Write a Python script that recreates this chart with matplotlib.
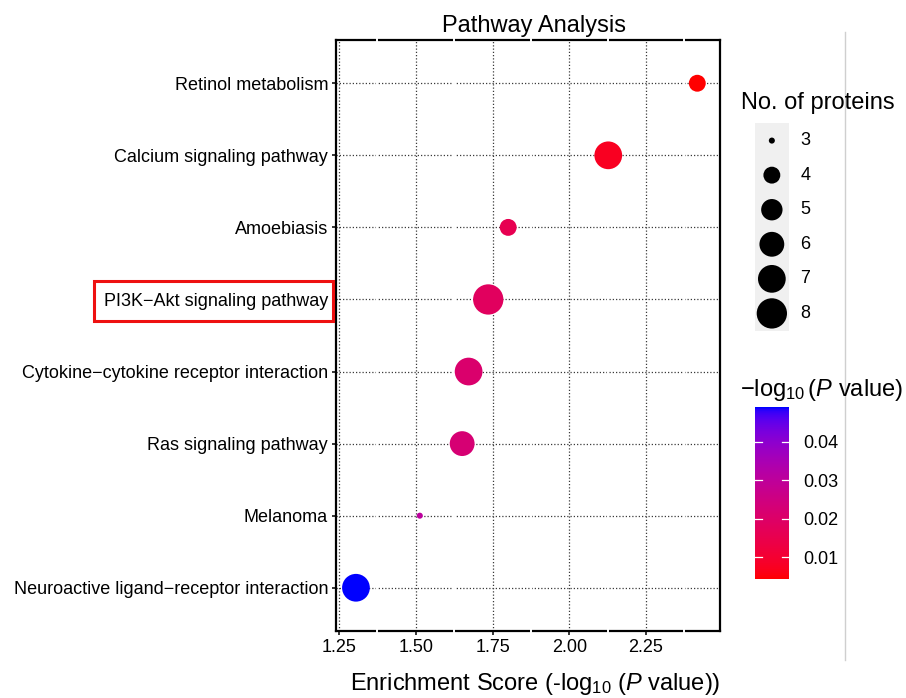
import numpy as np
import matplotlib
matplotlib.use("Agg")
import matplotlib.pyplot as plt
from matplotlib.colors import ListedColormap, Normalize
from matplotlib.patches import Rectangle
from matplotlib.lines import Line2D
import matplotlib.colorbar as mcolorbar

plt.rcParams['font.family'] = ['Liberation Sans', 'DejaVu Sans']
plt.rcParams['mathtext.fontset'] = 'custom'
plt.rcParams['mathtext.rm'] = 'Liberation Sans'
plt.rcParams['mathtext.it'] = 'Liberation Sans:italic'

# ---------------- data ----------------
pathways = ["Retinol metabolism", "Calcium signaling pathway", "Amoebiasis",
            "PI3K\u2212Akt signaling pathway", "Cytokine\u2212cytokine receptor interaction",
            "Ras signaling pathway", "Melanoma", "Neuroactive ligand\u2212receptor interaction"]
enrichment = [2.417, 2.127, 1.801, 1.736, 1.672, 1.651, 1.513, 1.305]
n_proteins = [4, 7, 4, 8, 7, 6, 3, 7]
p_values = [0.0043, 0.0075, 0.0158, 0.0184, 0.0212, 0.0223, 0.0306, 0.049]
size_legend_values = [3, 4, 5, 6, 7, 8]
x_ticks = [1.25, 1.50, 1.75, 2.00, 2.25]
cbar_ticks = [0.01, 0.02, 0.03, 0.04]
highlight = "PI3K\u2212Akt signaling pathway"

# ---------------- helpers ----------------
def srgb_to_lab(rgb):
    rgb = np.asarray(rgb, float)
    lin = np.where(rgb <= 0.04045, rgb / 12.92, ((rgb + 0.055) / 1.055) ** 2.4)
    M = np.array([[0.4124564, 0.3575761, 0.1804375],
                  [0.2126729, 0.7151522, 0.0721750],
                  [0.0193339, 0.1191920, 0.9503041]])
    xyz = M @ lin
    wp = np.array([0.95047, 1.0, 1.08883])
    t = xyz / wp
    f = np.where(t > (6 / 29) ** 3, np.cbrt(t), t / (3 * (6 / 29) ** 2) + 4 / 29)
    return np.array([116 * f[1] - 16, 500 * (f[0] - f[1]), 200 * (f[1] - f[2])])

def lab_to_srgb(lab):
    L, a, b = lab
    fy_ = (L + 16) / 116
    fx_ = fy_ + a / 500
    fz_ = fy_ - b / 200
    def finv(f):
        return np.where(f > 6 / 29, f ** 3, 3 * (6 / 29) ** 2 * (f - 4 / 29))
    wp = np.array([0.95047, 1.0, 1.08883])
    xyz = np.array([finv(fx_), finv(fy_), finv(fz_)]) * wp
    Minv = np.array([[3.2404542, -1.5371385, -0.4985314],
                     [-0.9692660, 1.8760108, 0.0415560],
                     [0.0556434, -0.2040259, 1.0572252]])
    lin = np.clip(Minv @ xyz, 0, 1)
    rgb = np.where(lin <= 0.0031308, 12.92 * lin, 1.055 * lin ** (1 / 2.4) - 0.055)
    return np.clip(rgb, 0, 1)

lab_lo = srgb_to_lab([1, 0, 0])
lab_hi = srgb_to_lab([0, 0, 1])
cols = [lab_to_srgb(lab_lo + (lab_hi - lab_lo) * t) for t in np.linspace(0, 1, 256)]
cmap = ListedColormap(cols)
norm = Normalize(vmin=0.0043, vmax=0.049)

def size_to_diam_px(v):
    s = 1 + 5 * np.sqrt((np.asarray(v, float) - 3) / 5)
    return 4.85 * s + 1.2

def diam_px_to_s(d):
    return (d * 72 / 100) ** 2

# ---------------- figure ----------------
W, H = 906, 698
fig = plt.figure(figsize=(W / 100, H / 100), dpi=100)

def fx(px):
    return px / W

def fy(py):
    return 1 - py / H

ax = fig.add_axes([fx(336), fy(631), fx(720) - fx(336), fy(40) - fy(631)])

ypos = np.arange(len(pathways))
ax.set_ylim(len(pathways) - 0.4, -0.6)
ax.set_xlim(1.240, 2.491)

# grid
for xt in x_ticks:
    ax.axvline(xt, color='#3a3a3a', lw=0.9, ls=(0, (1, 1.6)), zorder=1)
for yp in ypos:
    ax.axhline(yp, color='#3a3a3a', lw=0.9, ls=(0, (1, 1.6)), zorder=1)

# white minor lines cutting the border
minor = [1.375, 1.625, 1.875, 2.125, 2.375]
for m in minor:
    ax.plot([m, m], [-0.003, 1.003], color='white', lw=1.4,
            transform=ax.get_xaxis_transform(), clip_on=False, zorder=2.6)

diam = size_to_diam_px(n_proteins)
ax.scatter(enrichment, ypos, s=diam_px_to_s(diam), c=p_values, cmap=cmap, norm=norm,
           linewidths=0, zorder=4)

for sp in ax.spines.values():
    sp.set_linewidth(1.6)
    sp.set_color('black')
    sp.set_zorder(2.5)

ax.set_yticks(ypos)
ax.set_yticklabels(pathways, fontsize=13, color='black')
ax.set_xticks(x_ticks)
ax.set_xticklabels(["%.2f" % v for v in x_ticks], fontsize=13, color='black')
ax.tick_params(axis='both', length=3.2, width=1.1, pad=2.5, color='black')

ax.set_title("Pathway Analysis", fontsize=17, pad=6, x=0.516)
ax.set_xlabel(r"Enrichment Score (-log$_{10}$ ($P$ value))", fontsize=17)
ax.xaxis.set_label_coords(0.52, -0.068)

# ---------------- size legend ----------------
lax = fig.add_axes([fx(754.7), fy(330.7), fx(789) - fx(754.7), fy(123.3) - fy(330.7)])
lax.set_facecolor('#f0f0f0')
for sp in lax.spines.values():
    sp.set_visible(False)
lax.set_xticks([])
lax.set_yticks([])
lpos = np.arange(len(size_legend_values))
lax.set_ylim(len(size_legend_values) - 0.5, -0.5)
lax.set_xlim(0, 1)
lax.scatter([0.5] * len(lpos), lpos, s=diam_px_to_s(size_to_diam_px(size_legend_values)),
            color='black', linewidths=0)
for i, v in enumerate(size_legend_values):
    lax.text(1.33, i, str(v), fontsize=13, va='center', ha='left',
             transform=lax.get_yaxis_transform(), clip_on=False)
fig.text(fx(741), fy(103), "No. of proteins", fontsize=17, ha='left', va='center')

# ---------------- colour bar ----------------
cax = fig.add_axes([fx(754.7), fy(579.3), fx(789) - fx(754.7), fy(407.3) - fy(579.3)])
cb = mcolorbar.ColorbarBase(cax, cmap=cmap, norm=norm, orientation='vertical')
cb.outline.set_visible(False)
cb.set_ticks(cbar_ticks)
cb.set_ticklabels(["%.2f" % v for v in cbar_ticks])
cax.tick_params(length=0, labelsize=13, pad=10)
for t in cbar_ticks:
    cax.plot([0, 0.2], [t, t], color='white', lw=0.9, transform=cax.get_yaxis_transform())
    cax.plot([0.8, 1.0], [t, t], color='white', lw=0.9, transform=cax.get_yaxis_transform())
fig.text(fx(740), fy(390), r"$-$log$_{10}$$\,$($P$ value)", fontsize=17, ha='left', va='center')

# ---------------- grey divider ----------------
fig.add_artist(Line2D([fx(845), fx(845)], [fy(32), fy(660)], color='#cfcfcf', lw=1.0))

# ---------------- highlight box ----------------
fig.canvas.draw()
renderer = fig.canvas.get_renderer()
for lab in ax.get_yticklabels():
    if lab.get_text() == highlight:
        bb = lab.get_window_extent(renderer)
        x0 = bb.x0 - 10
        x1 = bb.x1 + 5
        cy = (bb.y0 + bb.y1) / 2
        y0 = cy - 20
        rect = Rectangle((x0 / W, y0 / H), (x1 - x0) / W, 40 / H,
                         transform=fig.transFigure, fill=False, edgecolor='#ee1111',
                         lw=2.2, clip_on=False)
        fig.add_artist(rect)

fig.savefig("out.png", dpi=100)
